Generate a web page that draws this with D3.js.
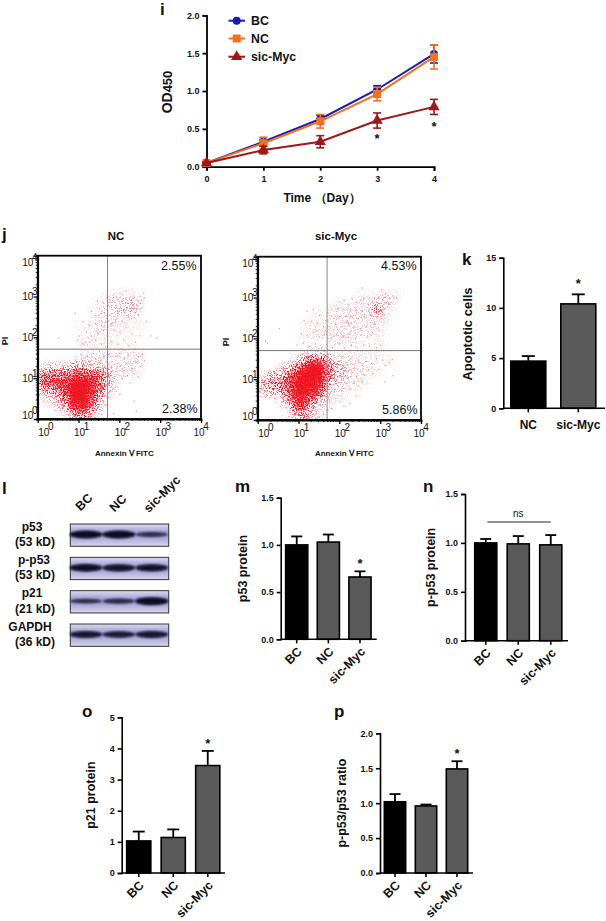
<!DOCTYPE html>
<html><head><meta charset="utf-8">
<script src="https://cdn.jsdelivr.net/npm/d3@7"></script>
<style>
html,body{margin:0;padding:0;background:#fff}
svg{display:block}
text{font-family:"Liberation Sans",Arial,sans-serif;fill:#111}
.b{font-weight:bold}
</style></head><body><svg id="c" width="606" height="921"></svg>
<script>
// ---- panel i
const days=[0,1,2,3,4];
const odBC=[0.05,0.33,0.63,1.02,1.49], odBCErr=[0.01,0.03,0.05,0.05,0.12];
const odNC=[0.05,0.31,0.60,0.96,1.45], odNCErr=[0.02,0.08,0.09,0.09,0.16];
const odSic=[0.05,0.22,0.33,0.61,0.79], odSicErr=[0.01,0.05,0.08,0.10,0.10];
const seriesNames=["BC","NC","sic-Myc"];
// ---- bar panels
const groups3=["BC","NC","sic-Myc"], groups2=["NC","sic-Myc"];
const apoptotic=[4.7,10.4], apoptoticTop=[5.2,11.35];
const p53=[1.0,1.03,0.66], p53Top=[1.09,1.11,0.72];
const pp53=[1.0,0.99,0.98], pp53Top=[1.04,1.07,1.08];
const p21=[1.03,1.14,3.45], p21Top=[1.33,1.40,3.92];
const ratio=[1.02,0.96,1.49], ratioTop=[1.13,0.98,1.60];
// ---- western blot: band strength per lane
const blotRows=["p53","p-p53","p21","GAPDH"];
const blotKd=["(53 kD)","(53 kD)","(21 kD)","(36 kD)"];
const bandStrength=[[1,1,0.42],[0.95,0.88,0.88],[0.42,0.5,1],[0.8,0.75,0.8]];
// ---- flow cytometry: density per 0.2-decade cell, rows from 10^0 upwards (0-9)
const ncDensity=[
[0,0,0,1,4,5,3,1,0,0,0,0,0,0],
[0,0,2,3,7,8,5,2,0,0,0,0,0,0],
[1,2,3,5,9,9,7,3,1,0,0,0,0,0],
[3,4,5,7,9,9,8,5,2,1,0,0,0,0],
[6,6,7,7,9,9,8,6,3,1,0,0,0,0],
[5,5,5,5,6,6,6,5,3,1,1,1,.5,0],
[1,2,2,2,3,3,2,2,1,1,1,1,.5,0],
[0,0,0,0,.5,1,1,1,1,1,1,1,1,0],
[0,0,0,0,0,.5,.5,.5,.5,.5,.5,.5,.5,0],
[0,0,0,0,0,1,1,.5,1,.5,.5,.5,0,0],
[0,0,0,0,0,.5,.5,1,.5,.5,.5,.5,0,0],
[0,0,0,0,.5,.5,.5,1,1,1,.5,.5,.5,0],
[0,0,0,0,0,0,.5,1,1,1,1,1,.5,0],
[0,0,0,0,0,0,.5,.5,1,1.5,2,2,1,0],
[0,0,0,0,0,0,0,.5,1,1,1.5,1.5,1,0],
[0,0,0,0,0,0,0,0,.5,.5,.5,.5,0,0]];
const sicDensity=[
[0,0,0,0,2,4,2,1,0,0,0,0,0,0,0,0,0,0],
[0,0,0,1,5,6,3,1,1,0,0,0,0,0,0,0,0,0],
[0,0,1,3,7,8,5,3,1,1,.5,0,0,0,0,0,0,0],
[2,3,3,4,8,9,8,6,2,1,1,.5,.5,0,0,0,0,0],
[3,4,5,6,8,9,9,8,4,2,1,1,.5,.5,0,0,0,0],
[1,3,3,5,7,9,9,9,5,3,2,1,1,.5,.5,0,0,0],
[0,0,1,2,4,7,9,9,5,3,2,1,1,1,.5,.5,0,0],
[0,0,0,0,1,3,5,5,3,1,1,1,1,1,1,.5,.5,0],
[0,0,0,0,0,.5,1,1,1,.5,.5,.5,.5,.5,.5,.5,0,0],
[0,0,0,0,0,.5,.5,.5,.5,1,1,1,.5,.5,.5,.5,0,0],
[0,0,0,0,0,.5,1,1,1,1,1,1,1,1,.5,.5,0,0],
[0,0,0,0,0,.5,1,.5,1,1,1,1,1,1,1,.5,0,0],
[0,0,0,0,0,.5,.5,.5,.5,1,1,1,1,1,1,1,0,0],
[0,0,0,0,0,0,0,.5,.5,1,1,1,1,1,3.5,2,.5,0],
[0,0,0,0,0,0,0,0,0,.5,.5,.5,1,1,1.5,1.5,1,0],
[0,0,0,0,0,0,0,0,0,0,0,0,.5,.5,.5,1,.5,.5]];
// sparse events, [log10 Annexin V, log10 PI]
const ncDots=[[2.18,2.75],[2.3,2.8],[2.45,2.9],[2.5,2.85],[2.4,2.7],[2.25,2.65],[2.1,2.7],[2.0,2.68],[1.9,2.72],[1.8,2.6],[1.75,2.55],[1.72,2.8],[1.75,2.95],[1.85,3.0],[1.95,2.95],[2.05,2.9],[2.15,2.95],[2.25,3.0],[2.35,3.0],[2.5,3.02],[2.6,2.98],[2.58,3.1],[2.15,3.15],[2.0,3.1],[1.85,3.08],[1.68,2.98],[1.6,2.85],[1.5,2.72],[1.45,2.9],[1.55,2.6],[1.4,2.55],[1.3,2.65],[0.9,2.6],[1.1,2.4],[1.25,2.3],[1.4,2.35],[1.55,2.3],[1.65,2.4],[1.8,2.35],[1.9,2.45],[2.05,2.4],[2.2,2.5],[2.35,2.5],[2.45,2.55],[2.65,2.4],[2.32,2.72],[2.42,2.8],[2.2,2.85],[2.12,2.62],[1.95,2.6],[2.28,2.92],[2.38,2.62],[2.52,2.72],[2.02,2.78],[1.78,2.78],[1.62,2.62],[1.18,2.15],[1.3,2.05],[1.45,2.12],[1.6,2.18],[1.7,2.05],[1.85,2.2],[2.0,2.15],[2.15,2.25],[2.3,2.1],[2.5,2.05],[2.75,2.05],[2.9,2.0],[1.0,2.05],[0.95,1.95],[0.5,2.0],[1.1,1.85],[1.25,1.9],[1.4,1.95],[1.55,1.85],[1.65,1.78],[1.8,1.9],[1.95,1.85],[2.1,1.95],[2.2,1.82],[2.38,1.9],[1.05,1.6],[1.2,1.55],[1.35,1.62],[1.5,1.68],[1.6,1.55],[1.72,1.6],[1.8,1.42],[1.9,1.55],[2.0,1.62],[2.1,1.5],[2.2,1.58],[2.32,1.65],[2.45,1.55],[2.55,1.6],[2.6,1.45],[2.5,1.3],[2.4,1.4],[2.3,1.25],[2.2,1.38],[2.1,1.2],[2.0,1.3],[1.9,1.18],[1.8,1.28],[1.75,1.1],[1.85,1.0],[1.95,1.1],[2.05,1.0],[2.18,1.08],[2.35,1.12],[2.45,1.05],[1.72,0.85],[1.78,0.7],[1.9,0.8],[2.0,0.62],[2.25,0.9],[2.35,0.45],[2.4,0.2],[1.65,0.35],[1.85,0.15],[1.55,0.12],[1.5,1.4],[1.4,1.48],[1.28,1.42],[1.62,1.3],[1.68,1.22]];
const sicDots=[[2.91,2.69],[2.85,2.65],[2.95,2.6],[3.0,2.72],[2.8,2.72],[2.88,2.78],[2.98,2.82],[2.75,2.6],[3.05,2.6],[2.92,2.55],[2.82,2.55],[3.02,2.68],[2.7,2.68],[3.1,2.75],[3.15,2.9],[3.2,2.85],[3.05,2.95],[2.95,3.0],[2.85,3.0],[2.8,2.92],[2.7,2.85],[3.1,3.02],[3.22,3.0],[3.12,3.12],[3.02,3.2],[3.3,3.05],[3.38,3.0],[2.55,3.25],[2.6,3.0],[2.5,2.95],[2.4,2.9],[2.3,2.98],[2.2,2.85],[2.1,2.95],[2.0,2.9],[1.95,2.75],[2.1,2.72],[2.25,2.7],[2.4,2.72],[2.55,2.68],[2.6,2.55],[2.45,2.5],[2.3,2.52],[2.15,2.55],[2.0,2.55],[1.85,2.5],[1.7,2.65],[1.65,2.45],[1.6,2.3],[1.75,2.3],[1.9,2.35],[2.05,2.3],[2.2,2.38],[2.35,2.3],[2.5,2.25],[2.65,2.3],[2.75,2.4],[2.85,2.35],[1.2,2.68],[1.35,2.72],[1.5,2.58],[1.12,2.45],[1.3,2.42],[1.45,2.38],[0.52,2.25],[1.05,2.12],[1.2,2.1],[1.35,2.15],[1.5,2.05],[1.62,2.12],[1.78,2.02],[1.92,2.12],[2.08,2.05],[2.22,2.12],[2.38,2.02],[2.52,2.1],[2.68,2.05],[2.8,2.15],[0.18,1.95],[0.22,1.9],[0.95,1.85],[1.1,1.9],[1.25,1.82],[1.4,1.88],[1.55,1.78],[1.68,1.85],[1.82,1.8],[1.98,1.88],[2.12,1.78],[2.28,1.85],[2.42,1.78],[2.58,1.85],[2.72,1.82],[2.9,1.78],[3.0,1.85],[1.75,1.5],[1.85,1.58],[1.95,1.45],[2.05,1.55],[2.15,1.42],[2.25,1.52],[2.35,1.38],[2.45,1.48],[2.55,1.35],[2.65,1.45],[2.78,1.4],[2.9,1.52],[3.05,1.48],[3.12,1.35],[3.2,1.42],[3.28,1.5],[2.95,1.25],[2.8,1.15],[2.7,1.25],[2.6,1.12],[2.5,1.2],[2.4,1.08],[2.3,1.18],[2.2,1.05],[2.1,1.2],[2.0,1.08],[1.9,1.22],[1.82,1.05],[2.55,0.95],[2.45,0.85],[2.35,0.92],[2.25,0.78],[2.15,0.9],[2.05,0.72],[1.95,0.85],[1.85,0.7],[2.0,0.45],[1.9,0.55],[1.75,0.5],[2.1,0.35],[2.25,0.42],[1.8,0.3],[1.7,0.25],[1.6,0.15],[1.5,0.08],[1.2,0.05],[0.75,0.1],[0.55,0.35],[0.4,0.55],[0.2,0.6],[0.1,0.75],[2.4,0.6],[3.1,0.95],[3.3,1.1]];
// ---- axes
const flowDecades=[1,10,100,1000,10000];

const svg=d3.select("#c");
const F='"Liberation Sans",Arial,sans-serif';
function txt(x,y,s,size,o={}){
  const t=svg.append("text").attr("x",x).attr("y",y).attr("font-size",size).text(s);
  if(o.bold!==false)t.attr("class","b");
  if(o.anchor)t.attr("text-anchor",o.anchor);
  if(o.rot!==undefined)t.attr("transform",`rotate(${o.rot} ${x} ${y})`);
  return t;
}
// panel letters
[["i",160,15],["j",2,240],["k",462,265],["l",2,494],["m",235,492],["n",423,492],["o",82,717],["p",334,717]]
 .forEach(d=>txt(d[1],d[2],d[0],17));

function styleAxis(g,w,fs){
  g.selectAll("path,line").attr("stroke","#000").attr("stroke-width",w);
  g.selectAll("text").attr("font-size",fs).attr("font-weight","bold").attr("font-family",F).attr("fill","#111");
}
// ---------- panel i
(function(){
  const x=d3.scaleLinear().domain([0,4]).range([206.5,434]);
  const y=d3.scaleLinear().domain([0,2]).range([166.7,15.3]);
  const gx=svg.append("g").attr("transform","translate(0,166.7)").call(d3.axisBottom(x).tickValues(days).tickFormat(d3.format("d")).tickSizeOuter(0).tickSize(4).tickPadding(5));
  const gy=svg.append("g").attr("transform","translate(206.5,0)").call(d3.axisLeft(y).tickValues([0,.5,1,1.5,2]).tickFormat(d3.format(".1f")).tickSizeOuter(0).tickSize(4).tickPadding(3));
  styleAxis(gx,1.8,9);styleAxis(gy,1.8,9);
  const ser=[[odBC,odBCErr,"#1a1ab4","c"],[odNC,odNCErr,"#f2711f","s"],[odSic,odSicErr,"#a11616","t"]];
  const line=d3.line().x((d,i)=>x(days[i])).y(d=>y(d));
  function mark(g,px,py,kind,col){
    if(kind==="c")g.append("circle").attr("cx",px).attr("cy",py).attr("r",4).attr("fill",col);
    if(kind==="s")g.append("rect").attr("x",px-4).attr("y",py-4).attr("width",8).attr("height",8).attr("fill",col);
    if(kind==="t")g.append("path").attr("d",d3.symbol(d3.symbolTriangle,55)()).attr("transform",`translate(${px},${py})`).attr("fill",col);
  }
  ser.forEach(([v,e,col,k])=>{
    const g=svg.append("g");
    g.append("path").attr("d",line(v)).attr("fill","none").attr("stroke",col).attr("stroke-width",2);
    v.forEach((d,i)=>{
      const px=x(days[i]);
      g.append("line").attr("x1",px).attr("x2",px).attr("y1",y(d-e[i])).attr("y2",y(d+e[i])).attr("stroke",col).attr("stroke-width",1.6);
      [d-e[i],d+e[i]].forEach(q=>g.append("line").attr("x1",px-4).attr("x2",px+4).attr("y1",y(q)).attr("y2",y(q)).attr("stroke",col).attr("stroke-width",1.6));
      mark(g,px,y(d),k,col);
    });
  });
  seriesNames.forEach((n,i)=>{
    const yy=[20.7,38.5,56.7][i],s=ser[i];
    svg.append("line").attr("x1",228.5).attr("x2",245).attr("y1",yy).attr("y2",yy).attr("stroke",s[2]).attr("stroke-width",2);
    mark(svg,236.7,yy,s[3],s[2]);
    txt(251,yy+4.5,n,12.3);
  });
  txt(x(3),143,"*",13,{anchor:"middle"});
  txt(x(4),131,"*",13,{anchor:"middle"});
  txt(322,202,"Time （Day）",12,{anchor:"middle"});
  const t=txt(172,92,"OD",14,{anchor:"middle",rot:-90});
  t.append("tspan").attr("font-size",13).text("450");
})();

// ---------- flow plots
const defs=svg.append("defs");
function makeGrain(id,seed){
  const f=defs.append("filter").attr("id",id).attr("filterUnits","userSpaceOnUse")
    .attr("x",0).attr("y",240).attr("width",606).attr("height",200).attr("color-interpolation-filters","sRGB");
  f.append("feGaussianBlur").attr("in","SourceAlpha").attr("stdDeviation",2.4).attr("result","soft");
  f.append("feTurbulence").attr("type","fractalNoise").attr("baseFrequency",0.85).attr("numOctaves",2).attr("seed",seed).attr("result","tex");
  f.append("feColorMatrix").attr("in","tex").attr("type","matrix")
    .attr("values","0 0 0 0 0  0 0 0 0 0  0 0 0 0 0  0 0 0 3.6 -1.2").attr("result","grain");
  f.append("feComposite").attr("in","soft").attr("in2","grain").attr("operator","arithmetic")
    .attr("k1",0).attr("k2",1).attr("k3",1).attr("k4",-1).attr("result","sum");
  const ct=f.append("feComponentTransfer").attr("in","sum").attr("result","alpha");
  ct.append("feFuncA").attr("type","linear").attr("slope",2.2).attr("intercept",0);
  f.append("feFlood").attr("flood-color","#ef1420").attr("result","red");
  f.append("feComposite").attr("in","red").attr("in2","alpha").attr("operator","in").attr("result","speck");
  // soft underlay so the densest parts of the cloud read as solid red
  const ul=f.append("feComponentTransfer").attr("in","soft").attr("result","coreA");
  ul.append("feFuncA").attr("type","gamma").attr("amplitude",0.95).attr("exponent",3.2).attr("offset",0);
  f.append("feComposite").attr("in","red").attr("in2","coreA").attr("operator","in").attr("result","core");
  const m=f.append("feMerge");
  m.append("feMergeNode").attr("in","core");
  m.append("feMergeNode").attr("in","speck");
}
makeGrain("grainA",3);makeGrain("grainB",11);
function flow(id,grain,x0,x1,y0,y1,grid,dots,gate,title,tx,pctTop,pctBot,pi){
  const x=d3.scaleLog().domain([1,1e4]).range([x0,x1]);
  const y=d3.scaleLog().domain([1,1e4]).range([y0,y1]);
  defs.append("clipPath").attr("id",id).append("rect").attr("x",x0).attr("y",y1).attr("width",x1-x0).attr("height",y0-y1);
  const clip=svg.append("g").attr("clip-path",`url(#${id})`);
  const heat=clip.append("g").attr("filter",`url(#${grain})`);
  grid.forEach((row,r)=>row.forEach((v,c)=>{
    if(!v)return;
    const a=x(10**(c*0.2)),b=x(10**((c+1)*0.2)),t=y(10**((r+1)*0.2)),u=y(10**(r*0.2));
    heat.append("rect").attr("x",a).attr("y",t).attr("width",b-a+.5).attr("height",u-t+.5)
      .attr("fill","#000").attr("opacity",Math.min(1,v/9));
  }));
  clip.selectAll("rect.d").data(dots).enter().append("rect").attr("class","d")
    .attr("x",d=>x(10**d[0])).attr("y",d=>y(10**d[1])).attr("width",1.2).attr("height",1.2).attr("fill","#f2505c").attr("opacity",.7);
  svg.append("line").attr("x1",x0).attr("x2",x1).attr("y1",y(10**gate)).attr("y2",y(10**gate)).attr("stroke","#777").attr("stroke-width",1);
  svg.append("line").attr("y1",y0).attr("y2",y1).attr("x1",x(10**gate)).attr("x2",x(10**gate)).attr("stroke","#888").attr("stroke-width",1);
  svg.append("rect").attr("x",x0).attr("y",y1).attr("width",x1-x0).attr("height",y0-y1).attr("fill","none").attr("stroke","#000").attr("stroke-width",1.8);
  const minor=x.ticks();
  const ax=svg.append("g").attr("transform",`translate(0,${y0})`).call(d3.axisBottom(x).tickValues(minor).tickFormat("").tickSizeOuter(0).tickSize(2));
  const ay=svg.append("g").attr("transform",`translate(${x0},0)`).call(d3.axisLeft(y).tickValues(minor).tickFormat("").tickSizeOuter(0).tickSize(2));
  [ax,ay].forEach(g=>{g.selectAll("path").attr("stroke","#000").attr("stroke-width",1.8);g.selectAll("line").attr("stroke","#000").attr("stroke-width",.8);});
  ax.selectAll(".tick line").filter(d=>flowDecades.includes(d)).attr("y2",4).attr("stroke-width",1.3);
  ay.selectAll(".tick line").filter(d=>flowDecades.includes(d)).attr("x2",-4).attr("stroke-width",1.3);
  flowDecades.forEach((d,i)=>{
    const px=x(d)+(i===0?6:i===4?-2:1);
    txt(px,y0+17,"10",10,{bold:false,anchor:"middle"}).attr("fill","#333");
    txt(px+7,y0+11,String(i),10,{bold:false,anchor:"middle"}).attr("fill","#333");
    const py=y(d)+(i===0?0:i===4?10:3.5);
    txt(x0-10,py,"10",10,{bold:false,anchor:"middle"}).attr("fill","#333");
    txt(x0-3,py-5,String(i),10,{bold:false,anchor:"middle"}).attr("fill","#333");
  });
  txt(tx,240,title,11.5,{anchor:"middle"});
  txt(x1-4.5,270,pctTop,12.5,{bold:false,anchor:"end"}).attr("fill","#222");
  txt(x1-3.5,y0-6,pctBot,12.5,{bold:false,anchor:"end"}).attr("fill","#222");
  txt(pi,y0-78,"PI",9,{anchor:"middle",rot:-90});
  txt((x0+x1)/2+5,456,"Annexin Ⅴ FITC",8,{anchor:"middle"});
}
flow("fa","grainA",37.7,201,419,255.7,ncDensity,ncDots,1.71,"NC",116,"2.55%","2.38%",8);
flow("fb","grainB",257.7,421,420,256.7,sicDensity,sicDots,1.70,"sic-Myc",336,"4.53%","5.86%",229);

// ---------- bar panels
function bars(o){
  const y=d3.scaleLinear().domain([0,o.max]).range([o.y0,o.yTop]);
  const x=d3.scaleBand().domain(o.cats).range(o.band).paddingInner(o.pad).paddingOuter(o.pad/2);
  o.vals.forEach((v,i)=>{
    const c=o.cats[i],cx=x(c)+x.bandwidth()/2;
    svg.append("line").attr("x1",cx).attr("x2",cx).attr("y1",y(v)).attr("y2",y(o.tops[i])).attr("stroke","#000").attr("stroke-width",1.8);
    svg.append("line").attr("x1",cx-o.cap).attr("x2",cx+o.cap).attr("y1",y(o.tops[i])).attr("y2",y(o.tops[i])).attr("stroke","#000").attr("stroke-width",1.8);
    svg.append("rect").attr("x",x(c)).attr("y",y(v)).attr("width",x.bandwidth()).attr("height",o.y0-y(v))
      .attr("fill",c==="BC"||(o.cats.length===2&&i===0)?"#000":"#5a5a5a").attr("stroke","#000").attr("stroke-width",1.6);
  });
  const axisLine=svg.append("g").attr("transform",`translate(${o.xAxis},0)`)
    .call(d3.axisLeft(y).tickValues(o.ticks).tickFormat(d3.format(o.fmt)).tickSizeOuter(0).tickSize(4).tickPadding(3));
  styleAxis(axisLine,1.6,9);
  const gx=svg.append("g").attr("transform",`translate(0,${o.y0})`)
    .call(d3.axisBottom(x).tickFormat("").tickSizeOuter(0).tickSize(4));
  gx.select("path").attr("d",`M${o.xAxis},0H${o.xEnd}`);
  styleAxis(gx,1.6,9);
  o.cats.forEach(c=>{
    const cx=x(c)+x.bandwidth()/2;
    if(o.flat) txt(cx,o.y0+21,c,12,{anchor:"middle"});
    else txt(cx+6,o.y0+13,c,12.5,{anchor:"end",rot:-45});
  });
  txt(o.labelX,(o.y0+o.yTop)/2+(o.labelDy||0),o.label,o.lfs||12.5,{anchor:"middle",rot:-90});
  if(o.star!==undefined){const c=o.cats[o.star];txt(x(c)+x.bandwidth()/2,o.starY,"*",13,{anchor:"middle"});}
}
bars({cats:groups2,vals:apoptotic,tops:apoptoticTop,max:15,yTop:257.7,y0:408.3,band:[503.3,603.3],pad:.3,cap:6.5,xAxis:503.3,xEnd:605,ticks:[0,5,10,15],fmt:"d",label:"Apoptotic cells",labelX:471.5,labelDy:1,lfs:13,flat:true,star:1,starY:288});
bars({cats:groups3,vals:p53,tops:p53Top,max:1.5,yTop:497.7,y0:639.3,band:[280.9,375.8],pad:.3,cap:5.5,xAxis:280.7,xEnd:376.7,ticks:[0,.5,1,1.5],fmt:".1f",label:"p53 protein",labelX:247,star:2,starY:568});
bars({cats:groups3,vals:pp53,tops:pp53Top,max:1.5,yTop:494,y0:640.7,band:[469.5,567],pad:.32,cap:5.5,xAxis:465,xEnd:568,ticks:[0,.5,1,1.5],fmt:".1f",label:"p-p53 protein",labelX:435});
bars({cats:groups3,vals:p21,tops:p21Top,max:5,yTop:717.3,y0:873,band:[121.5,225],pad:.3,cap:6,xAxis:121.7,xEnd:225,ticks:[0,1,2,3,4,5],fmt:"d",label:"p21 protein",labelX:95,star:2,starY:748});
bars({cats:groups3,vals:ratio,tops:ratioTop,max:2,yTop:733.3,y0:873,band:[379.5,472.5],pad:.31,cap:5.5,xAxis:380,xEnd:473,ticks:[0,.5,1,1.5,2],fmt:".1f",label:"p-p53/p53 ratio",labelX:346,star:2,starY:758});
svg.append("line").attr("x1",487.3).attr("x2",550.7).attr("y1",522).attr("y2",522).attr("stroke","#222").attr("stroke-width",1);
txt(518.3,517,"ns",10,{bold:false,anchor:"middle"});

// ---------- blot
(function(){
  const grad=defs.append("linearGradient").attr("id","mem").attr("x1",0).attr("x2",0).attr("y1",0).attr("y2",1);
  [[0,"#dcdaf0"],[.45,"#9794cc"],[1,"#d8d6ee"]].forEach(s=>grad.append("stop").attr("offset",s[0]).attr("stop-color",s[1]));
  defs.append("filter").attr("id","band").attr("x","-20%").attr("y","-60%").attr("width","140%").attr("height","220%")
    .append("feGaussianBlur").attr("stdDeviation",.9);
  const lane=d3.scalePoint().domain(groups3).range([86,151.7]);
  const top=d3.scalePoint().domain(blotRows).range([524,624]);
  const labelX=[32,34,32,30];
  blotRows.forEach((r,i)=>{
    const yy=top(r);
    const g=svg.append("g");
    g.append("rect").attr("x",70.3).attr("y",yy).attr("width",98.4).attr("height",22.3).attr("fill","url(#mem)").attr("stroke","#333").attr("stroke-width",1);
    groups3.forEach((c,j)=>{
      const s=bandStrength[i][j];
      g.append("ellipse").attr("cx",lane(c)).attr("cy",yy+10.5).attr("rx",15+s*1.5).attr("ry",1.2+s*2.8)
        .attr("fill","#070722").attr("opacity",.6+.4*s).attr("filter","url(#band)");
    });
    txt(labelX[i],yy+6.5,r,12,{anchor:"middle"});
    txt(35,yy+22,blotKd[i],12,{anchor:"middle"});
  });
  const laneLabel=(s,cx,cy,fs)=>txt(cx,cy,s,fs,{anchor:"middle",rot:-45});
  laneLabel("BC",87,505,12.5);
  laneLabel("NC",121,506,12.5);
  laneLabel("sic-Myc",165,497,12.5);
})();
</script></body></html>
